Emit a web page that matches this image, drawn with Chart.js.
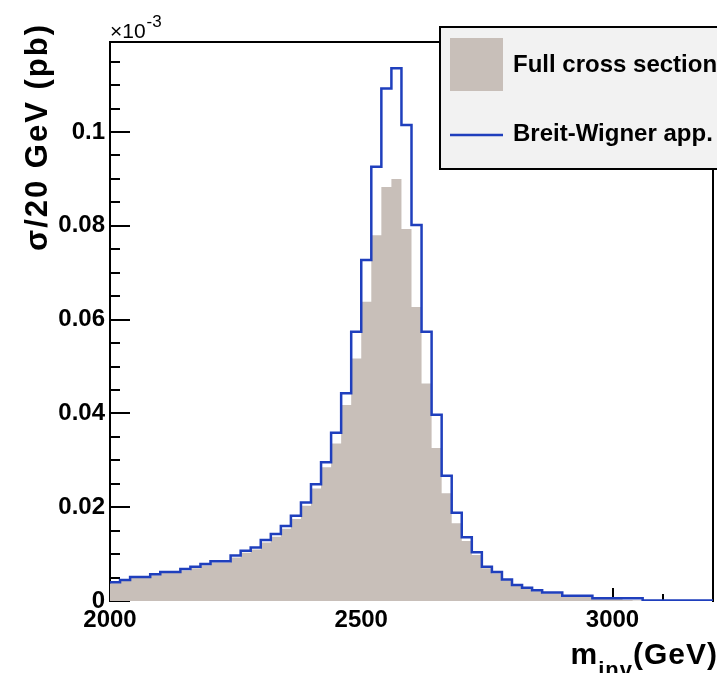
<!DOCTYPE html>
<html><head><meta charset="utf-8">
<script src="https://cdn.jsdelivr.net/npm/chart.js@4.4.1/dist/chart.umd.min.js"></script>
<style>html,body{margin:0;padding:0;background:#fff;overflow:hidden}canvas{display:block}</style>
</head><body>
<canvas id="c" width="717" height="673"></canvas>
<script>
// ---- data (units of 1e-3 pb per 20 GeV) ----
const binLowEdge = 2000;
const binWidth = 20;
const xMin = 2000;
const xMax = 3200;
const yMax = 0.1192;

const breitWigner = [
  0.0040, 0.0045, 0.0051, 0.0051, 0.0057, 0.0062, 0.0062, 0.0068, 0.0073, 0.0079,
  0.0085, 0.0085, 0.0097, 0.0107, 0.0114, 0.0130, 0.0143, 0.0160, 0.0182, 0.0210,
  0.0249, 0.0296, 0.0359, 0.0443, 0.0574, 0.0727, 0.0926, 0.1093, 0.1136, 0.1015,
  0.0802, 0.0574, 0.0397, 0.0267, 0.0188, 0.0136, 0.0104, 0.0073, 0.0062, 0.0046,
  0.0034, 0.0028, 0.0023, 0.0018, 0.0018, 0.0011, 0.0011, 0.0011, 0.0006, 0.0006,
  0.0006, 0.0006, 0.0006, 0.0001, 0.0001, 0.0001, 0.0001, 0.0001, 0.0001, 0.0001
];

const fullCrossSection = [
  0.0038, 0.0043, 0.0049, 0.0049, 0.0055, 0.0060, 0.0060, 0.0065, 0.0070, 0.0076,
  0.0082, 0.0082, 0.0093, 0.0103, 0.0110, 0.0125, 0.0137, 0.0154, 0.0175, 0.0203,
  0.0240, 0.0285, 0.0336, 0.0418, 0.0517, 0.0638, 0.0780, 0.0883, 0.0900, 0.0793,
  0.0627, 0.0464, 0.0326, 0.0230, 0.0166, 0.0128, 0.0098, 0.0070, 0.0059, 0.0044,
  0.0032, 0.0026, 0.0021, 0.0016, 0.0016, 0.0010, 0.0010, 0.0009, 0.0005, 0.0005,
  0.0004, 0.0002, 0.0001, 0, 0, 0, 0, 0, 0, 0
];

const xTickValues = [2000, 2500, 3000];
const xTickLabels = ['2000', '2500', '3000'];
const yTickValues = [0, 0.02, 0.04, 0.06, 0.08, 0.1];
const yTickLabels = ['0', '0.02', '0.04', '0.06', '0.08', '0.1'];
const xMajorStep = 500, xMinorStep = 100;
const yMajorStep = 0.02, yMinorStep = 0.005;

const seriesNames = ['Full cross section', 'Breit-Wigner app.'];
const FILL = '#c8bfb9';
const BLUE = '#1f3fbd';
const FONT = '"Liberation Sans", Arial, Helvetica, sans-serif';

function toSteps(vals) {
  const pts = vals.map((v, i) => ({ x: binLowEdge + i * binWidth, y: v }));
  pts.push({ x: binLowEdge + vals.length * binWidth, y: vals[vals.length - 1] });
  return pts;
}

function labelFor(values, labels, v) {
  const i = values.findIndex(t => Math.abs(t - v) < 1e-9);
  return i >= 0 ? labels[i] : '';
}

const decor = {
  id: 'decor',
  beforeDatasetsDraw(chart) {
    const { ctx, chartArea: a, scales: { x, y } } = chart;
    ctx.save();
    ctx.strokeStyle = '#000';
    ctx.lineWidth = 2;
    ctx.beginPath();
    ctx.moveTo(a.left, a.bottom + 1);
    ctx.lineTo(a.left, a.top);
    ctx.lineTo(a.right, a.top);
    ctx.lineTo(a.right, a.bottom + 1);
    ctx.stroke();
    // y ticks
    const ny = Math.floor(yMax / yMinorStep + 1e-6);
    for (let k = 0; k <= ny; k++) {
      const v = k * yMinorStep;
      const major = Math.abs(v / yMajorStep - Math.round(v / yMajorStep)) < 1e-6;
      const py = Math.round(y.getPixelForValue(v));
      ctx.beginPath();
      ctx.moveTo(a.left, py);
      ctx.lineTo(a.left + (major ? 20 : 10), py);
      ctx.stroke();
    }
    // x ticks
    const nx = Math.round((xMax - xMin) / xMinorStep);
    for (let k = 0; k <= nx; k++) {
      const v = xMin + k * xMinorStep;
      const major = (v - xMin) % xMajorStep === 0;
      const px = Math.round(x.getPixelForValue(v));
      ctx.beginPath();
      ctx.moveTo(px, a.bottom);
      ctx.lineTo(px, a.bottom - (major ? 13 : 7));
      ctx.stroke();
    }
    ctx.restore();
  },
  afterDraw(chart) {
    const { ctx, chartArea: a } = chart;
    ctx.save();
    // legend
    const lx = 440, ly = 27, lw = 290, lh = 142;
    ctx.fillStyle = '#f2f2f2';
    ctx.fillRect(lx, ly, lw, lh);
    ctx.strokeStyle = '#000';
    ctx.lineWidth = 2;
    ctx.strokeRect(lx, ly, lw, lh);
    ctx.fillStyle = chart.data.datasets[0].backgroundColor;
    ctx.fillRect(450, 38, 53, 53);
    ctx.strokeStyle = chart.data.datasets[1].borderColor;
    ctx.lineWidth = 2.5;
    ctx.beginPath(); ctx.moveTo(450, 135); ctx.lineTo(503, 135); ctx.stroke();
    ctx.fillStyle = '#000';
    ctx.font = 'bold 24px ' + FONT;
    ctx.textAlign = 'left';
    ctx.textBaseline = 'middle';
    ctx.fillText(chart.data.datasets[0].label, 513, 65);
    ctx.fillText(chart.data.datasets[1].label, 513, 134);

    // exponent
    ctx.textBaseline = 'alphabetic';
    ctx.font = '21px ' + FONT;
    ctx.fillText('\u00d710', a.left, 38);
    const w10 = ctx.measureText('\u00d710').width;
    ctx.font = '17px ' + FONT;
    ctx.fillText('-3', a.left + w10 + 1, 27);

    // y title
    ctx.save();
    ctx.translate(38, 23);
    ctx.rotate(-Math.PI / 2);
    ctx.font = 'bold 31px ' + FONT;
    ctx.letterSpacing = '2px';
    ctx.textAlign = 'right';
    ctx.textBaseline = 'middle';
    ctx.fillText('\u03c3/20 GeV (pb)', 0, 0);
    ctx.restore();

    // x title: m_inv(GeV)
    ctx.letterSpacing = '1px';
    ctx.textAlign = 'left';
    ctx.textBaseline = 'alphabetic';
    ctx.font = 'bold 30px ' + FONT;
    const wm = ctx.measureText('m').width;
    const wg = ctx.measureText('(GeV)').width;
    ctx.font = 'bold 22px ' + FONT;
    const wi = ctx.measureText('inv').width;
    let x0 = 718 - (wm + wi + wg);
    ctx.font = 'bold 30px ' + FONT;
    ctx.fillText('m', x0, 664);
    ctx.font = 'bold 22px ' + FONT;
    ctx.fillText('inv', x0 + wm, 677);
    ctx.font = 'bold 30px ' + FONT;
    ctx.fillText('(GeV)', x0 + wm + wi, 664);
    ctx.restore();
  }
};

new Chart(document.getElementById('c'), {
  type: 'line',
  data: {
    datasets: [
      {
        label: seriesNames[0],
        data: toSteps(fullCrossSection),
        stepped: 'before',
        fill: 'origin',
        backgroundColor: FILL,
        borderWidth: 0,
        borderColor: 'rgba(0,0,0,0)',
        pointRadius: 0,
        order: 2
      },
      {
        label: seriesNames[1],
        data: toSteps(breitWigner),
        stepped: 'before',
        fill: false,
        borderColor: BLUE,
        borderWidth: 2.5,
        borderJoinStyle: 'miter',
        borderCapStyle: 'butt',
        pointRadius: 0,
        order: 1
      }
    ]
  },
  options: {
    responsive: false,
    animation: false,
    devicePixelRatio: 1,
    layout: { padding: { top: 42, right: 4, left: 0, bottom: 0 } },
    plugins: { legend: { display: false }, tooltip: { enabled: false } },
    scales: {
      x: {
        type: 'linear',
        min: xMin, max: xMax,
        grid: { display: false, drawTicks: false },
        border: { display: false },
        afterBuildTicks: (s) => { s.ticks = xTickValues.map(v => ({ value: v })); },
        ticks: {
          autoSkip: false,
          maxRotation: 0,
          padding: 5,
          color: '#000',
          font: { family: FONT, size: 24, weight: 'bold' },
          callback: (v) => labelFor(xTickValues, xTickLabels, v)
        },
        afterFit: (s) => { s.height = 72; }
      },
      y: {
        type: 'linear',
        min: 0, max: yMax,
        grid: { display: false, drawTicks: false },
        border: { display: false },
        afterBuildTicks: (s) => { s.ticks = yTickValues.map(v => ({ value: v })); },
        ticks: {
          autoSkip: false,
          padding: 5,
          color: '#000',
          font: { family: FONT, size: 24, weight: 'bold' },
          callback: (v) => labelFor(yTickValues, yTickLabels, v)
        },
        afterFit: (s) => { s.width = 110; }
      }
    }
  },
  plugins: [decor]
});
</script>
</body></html>
